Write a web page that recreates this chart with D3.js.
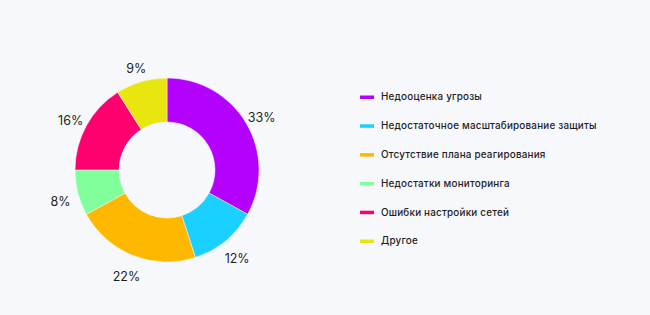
<!DOCTYPE html>
<html>
<head>
<meta charset="utf-8">
<script src="https://cdn.jsdelivr.net/npm/d3@7"></script>
<style>
  body { margin: 0; background: #f7f8fc; }
  svg { display: block; font-family: Inter, "Noto Sans", sans-serif; }
</style>
</head>
<body>
<div class="chart"></div>
<script>
// data
const categories = ["Недооценка угрозы", "Недостаточное масштабирование защиты", "Отсутствие плана реагирования",
    "Недостатки мониторинга", "Ошибки настройки сетей", "Другое"];
const values = [33, 12, 22, 8, 16, 9];
const colors = ["#b401fe", "#1ad0fe", "#feb800", "#80ff9b", "#ff0070", "#e9e60f"];

const width = 650, height = 315;
const cx = 167, cy = 170;
const outerR = 92, innerR = 48, labelR = 110;

let svg = d3.select('.chart').append('svg').attr('width', width).attr('height', height);
svg.append('rect').attr('width', width).attr('height', height).attr('fill', '#f7f8fc');

let pie = d3.pie().sort(null).value(d => d)(values);
let arc = d3.arc().innerRadius(innerR).outerRadius(outerR);
let labelArc = d3.arc().innerRadius(labelR).outerRadius(labelR);

let g = svg.append('g').attr('transform', 'translate(' + cx + ',' + cy + ')');

g.selectAll('path').data(pie).enter().append('path')
    .attr('d', arc)
    .attr('fill', (d, i) => colors[i])
    .attr('stroke', '#f7f8fc')
    .attr('stroke-width', 0.5);

g.selectAll('text').data(pie).enter().append('text')
    .attr('transform', d => {
        let c = labelArc.centroid(d);
        return 'translate(' + c[0] + ',' + (c[1] + 4) + ')';
    })
    .attr('text-anchor', 'middle')
    .attr('dy', '0.35em')
    .style('font-size', '12.5px')
    .style('fill', '#1e1e24')
    .text(d => d.data + '%');

//legend
let y = d3.scalePoint().domain(categories).range([97, 241]);
let legend = svg.append('g').selectAll('g').data(categories).enter().append('g')
    .attr('transform', d => 'translate(360,' + y(d) + ')');

legend.append('rect')
    .attr('x', 0).attr('y', -1.5).attr('width', 14).attr('height', 3.5)
    .attr('fill', (d, i) => colors[i]);

legend.append('text')
    .attr('x', 21).attr('dy', '0.35em')
    .style('font-size', '9.9px')
    .style('font-weight', 500)
    .style('letter-spacing', '0.2px')
    .style('fill', '#1e1e24')
    .text(d => d);
</script>
</body>
</html>
